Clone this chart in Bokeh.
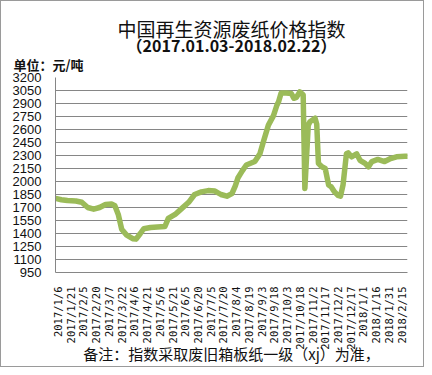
from datetime import datetime
from math import pi
from bokeh.plotting import figure
from bokeh.models import Range1d, FixedTicker, Title, ColumnDataSource
from bokeh.embed import file_html
from bokeh.resources import INLINE

# ---- data ----
dates = [
    "2017-01-03", "2017-01-10", "2017-01-17", "2017-01-27", "2017-02-03", "2017-02-10",
    "2017-02-17", "2017-02-24", "2017-03-03", "2017-03-10", "2017-03-14", "2017-03-18",
    "2017-03-22", "2017-03-28", "2017-04-04", "2017-04-08", "2017-04-13", "2017-04-17",
    "2017-04-25", "2017-05-03", "2017-05-12", "2017-05-16", "2017-05-24", "2017-06-01",
    "2017-06-09", "2017-06-16", "2017-06-24", "2017-07-02", "2017-07-10", "2017-07-17",
    "2017-07-24", "2017-07-30", "2017-08-03", "2017-08-06", "2017-08-11", "2017-08-16",
    "2017-08-21", "2017-08-26", "2017-09-01", "2017-09-05", "2017-09-11", "2017-09-17",
    "2017-09-21", "2017-09-23", "2017-09-26", "2017-10-02", "2017-10-08", "2017-10-11",
    "2017-10-14", "2017-10-18", "2017-10-22", "2017-10-24", "2017-10-28", "2017-10-30",
    "2017-11-05", "2017-11-07", "2017-11-09", "2017-11-13", "2017-11-17", "2017-11-21",
    "2017-11-24", "2017-11-28", "2017-12-02", "2017-12-05", "2017-12-08", "2017-12-12",
    "2017-12-14", "2017-12-18", "2017-12-24", "2017-12-28", "2018-01-03", "2018-01-07",
    "2018-01-11", "2018-01-18", "2018-01-26", "2018-02-01", "2018-02-09", "2018-02-19",
    "2018-02-22",
]
index_values = [
    1805, 1790, 1780, 1775, 1760, 1700,
    1680, 1700, 1735, 1740, 1720, 1620,
    1450, 1380, 1340, 1335, 1400, 1455,
    1470, 1475, 1480, 1575, 1620, 1690,
    1760, 1850, 1880, 1895, 1890, 1850,
    1830, 1860, 1950, 2040, 2120, 2190,
    2210, 2230, 2320, 2455, 2650, 2760,
    2880, 2920, 3020, 3020, 3015, 2960,
    2970, 3035, 3000, 1920, 2650, 2690,
    2730, 2660, 2210, 2170, 2150, 1960,
    1940, 1880, 1840, 1830, 1960, 2320,
    2330, 2285, 2320, 2245, 2210, 2170,
    2230, 2255, 2230, 2260, 2285, 2290,
    2290,
]
y_ticks = [950, 1100, 1250, 1400, 1550, 1700, 1850, 2000, 2150, 2300,
           2450, 2600, 2750, 2900, 3050, 3200]
x_tick_labels = [
    "2017/1/6", "2017/1/21", "2017/2/5", "2017/2/20", "2017/3/7", "2017/3/22",
    "2017/4/6", "2017/4/21", "2017/5/6", "2017/5/21", "2017/6/5", "2017/6/20",
    "2017/7/5", "2017/7/20", "2017/8/4", "2017/8/19", "2017/9/3", "2017/9/18",
    "2017/10/3", "2017/10/18", "2017/11/2", "2017/11/17", "2017/12/2", "2017/12/17",
    "2018/1/1", "2018/1/16", "2018/1/31", "2018/2/15",
]
title_text = "中国再生资源废纸价格指数"
subtitle_text = "（2017.01.03-2018.02.22）"
unit_text = "单位：元/吨"
note_text = "备注：指数采取废旧箱板纸一级（xj）为准，"
x_start = "2017-01-03"
x_end = "2018-02-22"

# ---- build ----
def to_dt(s, fmt="%Y-%m-%d"):
    return datetime.strptime(s, fmt)

EPOCH = datetime(1970, 1, 1)
def to_ms(d):
    return (d - EPOCH).total_seconds() * 1000.0

src = ColumnDataSource(data=dict(date=[to_dt(d) for d in dates], v=index_values))

W, H = 424, 367
FL, FT, FW, FH = 54, 76, 352, 195   # frame left, top, width, height
FB = FT + FH

p = figure(width=W, height=H, output_backend="svg", toolbar_location=None,
           x_axis_type="datetime",
           x_range=Range1d(to_dt(x_start), to_dt(x_end)),
           y_range=Range1d(y_ticks[0], y_ticks[-1]),
           min_border_left=FL, min_border_right=W - FL - FW,
           min_border_top=FT, min_border_bottom=H - FB)
p.outline_line_color = None
p.background_fill_color = "white"
p.border_fill_color = "white"

p.line(x="date", y="v", source=src, line_width=5.5, line_color="#9BBB59",
       line_join="round", line_cap="round")

# y axis
p.yaxis.ticker = FixedTicker(ticks=y_ticks)
p.ygrid.ticker = FixedTicker(ticks=y_ticks)
p.ygrid.grid_line_color = "#868686"
p.ygrid.grid_line_width = 1
p.yaxis.axis_line_color = "#868686"
p.yaxis.major_tick_line_color = None
p.yaxis.minor_tick_line_color = None
p.yaxis.major_label_standoff = 8
p.yaxis.major_label_text_font = "Liberation Sans"
p.yaxis.major_label_text_font_size = "13px"
p.yaxis.major_label_text_color = "#111111"

# x axis
cjk = "Noto Sans CJK SC"
x_tick_ms = [to_ms(to_dt(s, "%Y/%m/%d")) for s in x_tick_labels]
xax = p.xaxis[0]
xax.ticker = FixedTicker(ticks=x_tick_ms)
xax.major_label_overrides = {t: s for t, s in zip(x_tick_ms, x_tick_labels)}
xax.major_label_orientation = pi / 2
xax.axis_line_color = "#868686"
xax.major_tick_line_color = None
xax.minor_tick_line_color = None
xax.major_label_standoff = 8
xax.major_label_text_font = "DejaVu Sans Mono"
xax.major_label_text_font_size = "10.5px"
xax.major_label_text_color = "#111111"
# footnote as the axis label below the tick labels
xax.axis_label = note_text
xax.axis_label_text_font = cjk
xax.axis_label_text_font_size = "15px"
xax.axis_label_text_font_style = "normal"
xax.axis_label_text_color = "#111111"
xax.axis_label_standoff = -10
xax.axis_label_align = "center"
p.xgrid.visible = False

# titles stacked above the frame
def make_title(text, size, bold=False, align="left", offset=0, standoff=0):
    return Title(text=text, text_font=cjk, text_font_size=size,
                 text_font_style="bold" if bold else "normal", align=align,
                 offset=offset, standoff=standoff, text_color="#111111")

# nearest to frame first
p.add_layout(make_title(unit_text, "13px", bold=True, align="left", offset=12 - FL, standoff=8), "above")
p.add_layout(make_title(subtitle_text, "16px", bold=True, align="center", offset=-4, standoff=-17), "above")
p.add_layout(make_title(title_text, "19px", align="center", offset=-3, standoff=-4), "above")

p.styles = {"border": "1px solid #9a9a9a"}

open("out.html", "w").write(file_html(p, INLINE))
